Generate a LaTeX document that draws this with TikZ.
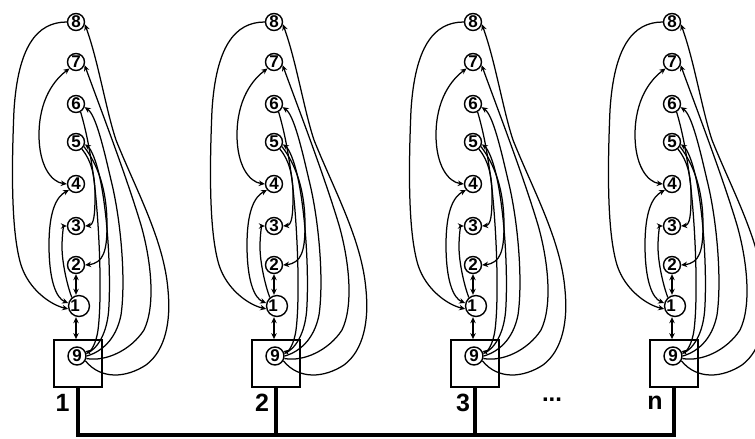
\documentclass[tikz,border=0pt]{standalone}
\usepackage{fontspec}
\setmainfont{Liberation Sans}
\usetikzlibrary{arrows.meta}
\begin{document}
\begin{tikzpicture}[x=1pt,y=-1pt,
  st/.style={circle,draw,line width=1.4pt,minimum size=17pt,inner sep=0pt,font=\fontsize{17}{17}\selectfont\bfseries},
  ed/.style={line width=1.25pt,-{Stealth[length=6pt,width=5.5pt]}},
  ed2/.style={line width=1.25pt,{Stealth[length=6pt,width=5.5pt]}-{Stealth[length=6pt,width=5.5pt]}},
  boxst/.style={draw,line width=1.8pt,minimum width=48pt,minimum height=47pt,inner sep=0pt},
  bus/.style={line width=3.2pt},
  lab/.style={font=\fontsize{25}{25}\selectfont\bfseries,inner sep=0pt}]
\clip (0,0) rectangle (755,439);
\fill[white] (0,0) rectangle (755,439);
\foreach \u/\cx/\lab/\lx in {1/76/1/-13.5,2/274/2/-12,3/473/3/-10,4/672/n/-17}{
 \begin{scope}[shift={(\cx,0)}]
  \node[boxst] (b-\u) at (2,363.5) {};
  \node[st] (a8-\u) at (0,22) {8};
  \node[st] (a7-\u) at (0,62) {7};
  \node[st] (a6-\u) at (0,104) {6};
  \node[st] (a5-\u) at (0,142) {5};
  \node[st] (a4-\u) at (0,184) {4};
  \node[st] (a3-\u) at (0,226) {3};
  \node[st] (a2-\u) at (0,265) {2};
  \node[st,minimum size=20pt] (a1-\u) at (3,306) {1\kern8pt};
  \node[st,minimum size=18pt] (a9-\u) at (1,356) {9};
  \node[lab] (l-\u) at (\lx,403) {\lab};
  \coordinate (g-\u) at (2,435);
  % vertical double arrows
  \draw[ed2] (a2-\u.south) -- (a2-\u.south |- a1-\u.north);
  \draw[ed2] (a2-\u.south |- a1-\u.south) -- (a2-\u.south |- b-\u.north);
  % left side
  \draw[ed] (a8-\u.180) .. controls (-40,22) and (-58,48) .. (-62,110)
     .. controls (-65,180) and (-64,235) .. (-55,265)
     .. controls (-47,290) and (-25,305) .. (a1-\u.195);
  \draw[ed2] (a7-\u.225) .. controls (-22,80) and (-37,100) .. (-37,135)
     .. controls (-37,165) and (-25,182) .. (a4-\u.180);
  \draw[ed2] (a4-\u.220) .. controls (-20,197) and (-27,212) .. (-27,245)
     .. controls (-27,280) and (-20,298) .. (a1-\u.165);
  \draw[ed] (a1-\u.130) .. controls (-9,285) and (-14,262) .. (-14,247)
     .. controls (-14,233) and (-12,226) .. (a3-\u.180);
  % right side
  \draw[ed] (a9-\u.-30) .. controls (25,380) and (50,378) .. (70,365)
     .. controls (90,350) and (95,320) .. (92,290)
     .. controls (88,240) and (60,190) .. (40,140)
     .. controls (30,110) and (22,60) .. (a8-\u.-15);
  \draw[ed] (a9-\u.-15) .. controls (30,362) and (55,350) .. (68,330)
     .. controls (80,305) and (75,260) .. (65,225)
     .. controls (50,175) and (25,110) .. (a7-\u.-20);
  \draw[ed] (a9-\u.0) .. controls (25,352) and (40,340) .. (45,315)
     .. controls (50,280) and (45,220) .. (35,180)
     .. controls (28,150) and (20,115) .. (a6-\u.-20);
  \draw[ed] (a9-\u.15) .. controls (20,350) and (32,335) .. (33,305)
     .. controls (35,260) and (30,200) .. (22,170)
     .. controls (18,155) and (14,148) .. (a5-\u.-15);
  \draw[ed] (a6-\u.-60) .. controls (10,130) and (14,150) .. (18,180)
     .. controls (24,230) and (26,300) .. (22,330)
     .. controls (20,345) and (14,352) .. (a9-\u.30);
  \draw[ed] (a5-\u.-50) .. controls (15,160) and (19,175) .. (19,195)
     .. controls (19,215) and (18,225) .. (a3-\u.0);
  \draw[ed] (a5-\u.-30) .. controls (22,165) and (31,190) .. (31,225)
     .. controls (31,250) and (28,263) .. (a2-\u.0);
 \end{scope}
}
\draw[bus] (b-1.south) -- (g-1) -- (g-4) -- (b-4.south);
\draw[bus] (b-2.south) -- (g-2);
\draw[bus] (b-3.south) -- (g-3);
\node[anchor=base,inner sep=0pt,font=\fontsize{24}{24}\selectfont\bfseries] (dots) at (552,401) {...};
\end{tikzpicture}
\end{document}
